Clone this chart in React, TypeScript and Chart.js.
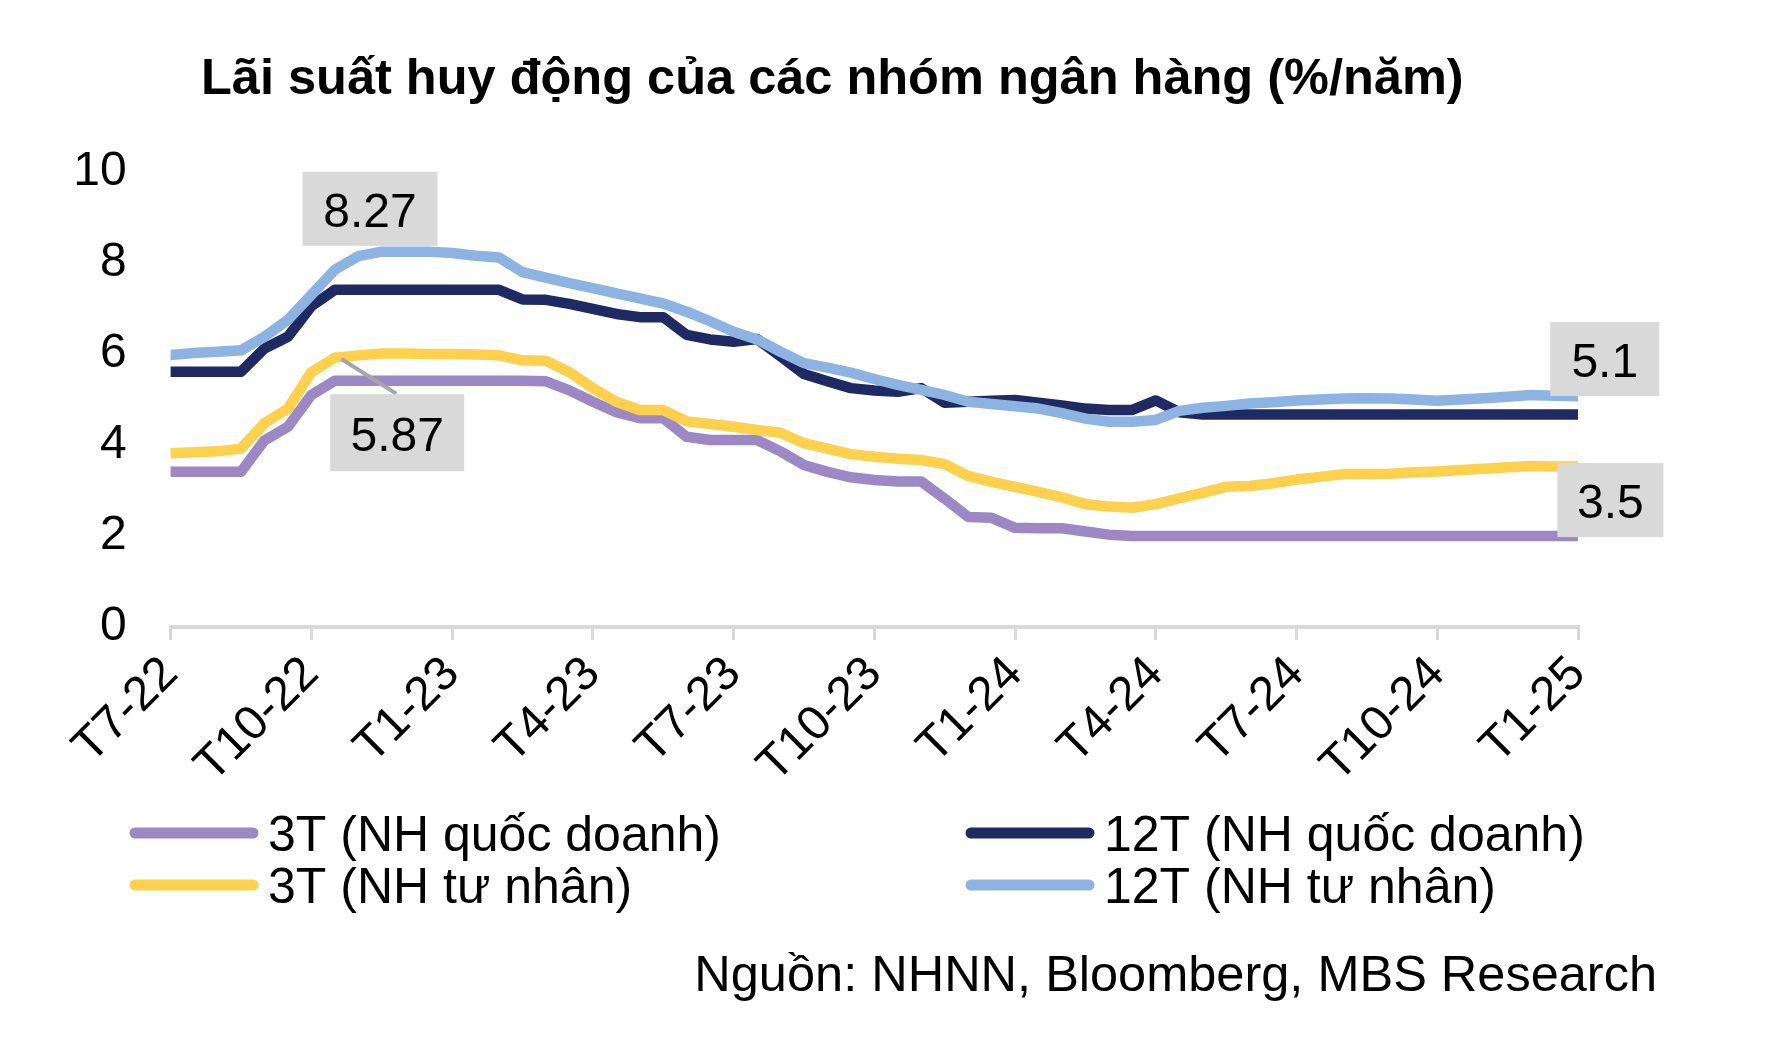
import React, { useEffect, useRef } from 'react';
import { Chart, registerables } from 'chart.js';

Chart.register(...registerables);

// ---- DATA ----
const titleText = 'Lãi suất huy động của các nhóm ngân hàng (%/năm)';
const sourceText = 'Nguồn: NHNN, Bloomberg, MBS Research';

// Quarterly axis labels (T7-22 .. T1-25)
const tickLabels = ['T7-22', 'T10-22', 'T1-23', 'T4-23', 'T7-23', 'T10-23', 'T1-24', 'T4-24', 'T7-24', 'T10-24', 'T1-25'];

// Semi-monthly observations, T7-22 .. T1-25 (61 points)
const state3M = [
  3.41, 3.41, 3.41, 3.41, 4.10, 4.40, 5.10, 5.41, 5.41, 5.41,
  5.41, 5.41, 5.41, 5.41, 5.41, 5.41, 5.40, 5.20, 4.95, 4.72,
  4.59, 4.59, 4.18, 4.11, 4.11, 4.11, 3.86, 3.56, 3.41, 3.29,
  3.23, 3.20, 3.20, 2.82, 2.42, 2.40, 2.18, 2.17, 2.17, 2.10,
  2.03, 2.00, 2.00, 2.00, 2.00, 2.00, 2.00, 2.00, 2.00, 2.00,
  2.00, 2.00, 2.00, 2.00, 2.00, 2.00, 2.00, 2.00, 2.00, 2.00,
  2.00,
];
const state12M = [
  5.61, 5.61, 5.61, 5.61, 6.12, 6.38, 7.05, 7.41, 7.41, 7.41,
  7.41, 7.41, 7.41, 7.41, 7.41, 7.20, 7.19, 7.10, 6.99, 6.88,
  6.81, 6.81, 6.42, 6.32, 6.27, 6.33, 5.95, 5.56, 5.40, 5.25,
  5.20, 5.17, 5.25, 4.93, 4.95, 4.97, 4.99, 4.93, 4.87, 4.80,
  4.77, 4.77, 4.98, 4.72, 4.67, 4.67, 4.67, 4.67, 4.67, 4.67,
  4.67, 4.67, 4.67, 4.67, 4.67, 4.67, 4.67, 4.67, 4.67, 4.67,
  4.67,
];
const private3M = [
  3.82, 3.84, 3.86, 3.92, 4.48, 4.80, 5.60, 5.92, 5.97, 6.01,
  6.01, 6.00, 6.00, 5.99, 5.97, 5.86, 5.85, 5.60, 5.25, 4.95,
  4.77, 4.77, 4.52, 4.46, 4.40, 4.33, 4.27, 4.04, 3.92, 3.80,
  3.74, 3.70, 3.67, 3.58, 3.32, 3.19, 3.08, 2.97, 2.85, 2.70,
  2.65, 2.62, 2.70, 2.83, 2.95, 3.08, 3.10, 3.16, 3.24, 3.30,
  3.36, 3.36, 3.37, 3.40, 3.42, 3.45, 3.48, 3.51, 3.54, 3.53,
  3.53,
];
const private12M = [
  5.98, 6.02, 6.05, 6.08, 6.38, 6.75, 7.30, 7.85, 8.15, 8.25,
  8.25, 8.25, 8.22, 8.16, 8.12, 7.80, 7.68, 7.56, 7.45, 7.33,
  7.22, 7.11, 6.93, 6.72, 6.49, 6.32, 6.05, 5.80, 5.70, 5.59,
  5.45, 5.32, 5.21, 5.10, 4.95, 4.90, 4.85, 4.80, 4.70, 4.58,
  4.51, 4.51, 4.55, 4.75, 4.82, 4.86, 4.91, 4.94, 4.98, 5.00,
  5.02, 5.03, 5.02, 5.00, 4.97, 5.00, 5.03, 5.06, 5.10, 5.08,
  5.07,
];

const seriesNames = ['3T (NH quốc doanh)', '12T (NH quốc doanh)', '3T (NH tư nhân)', '12T (NH tư nhân)'];

// Callout boxes: text and centre in data units (months from T7-22, %)
const callouts = [
  { text: '8.27', x: 4.25, y: 9.19, w: 135, h: 74 },
  { text: '5.87', x: 4.83, y: 4.27, w: 134, h: 77, leader: [3.64, 5.89, 4.81, 5.13] },
  { text: '5.1', x: 30.57, y: 5.89, w: 109, h: 74 },
  { text: '3.5', x: 30.69, y: 2.79, w: 106, h: 74 },
];

// ---- STYLE ----
const COLORS = ['#9b88c4', '#1f2a63', '#fdd14d', '#8db3e2'];
const FONT = '"Liberation Sans", Arial, sans-serif';
const W = 1772;
const H = 1044;

const toXY = (arr: number[]) => arr.map((v, i) => ({ x: i / 2, y: v }));

const decorPlugin = {
  id: 'decor',
  afterDatasetsDraw(chart: any) {
    const { ctx } = chart;
    const xs = chart.scales.x;
    const ys = chart.scales.y;
    ctx.save();
    for (const c of callouts) {
      if (c.leader) {
        ctx.strokeStyle = '#a6a6a6';
        ctx.lineWidth = 4;
        ctx.beginPath();
        ctx.moveTo(xs.getPixelForValue(c.leader[0]), ys.getPixelForValue(c.leader[1]));
        ctx.lineTo(xs.getPixelForValue(c.leader[2]), ys.getPixelForValue(c.leader[3]));
        ctx.stroke();
      }
      const cx = xs.getPixelForValue(c.x);
      const cy = ys.getPixelForValue(c.y);
      ctx.fillStyle = '#d9d9d9';
      ctx.fillRect(cx - c.w / 2, cy - c.h / 2, c.w, c.h);
      ctx.fillStyle = '#000';
      ctx.font = `48px ${FONT}`;
      ctx.textAlign = 'center';
      ctx.textBaseline = 'alphabetic';
      ctx.fillText(c.text, cx, cy + 18);
    }
    ctx.restore();
  },
  afterDraw(chart: any) {
    const { ctx } = chart;
    ctx.save();
    // title
    ctx.fillStyle = '#000';
    ctx.font = `bold 50.5px ${FONT}`;
    ctx.textAlign = 'left';
    ctx.textBaseline = 'alphabetic';
    ctx.fillText(titleText, 201, 94);

    // legend (2 x 2)
    const cols = [130, 966];
    const rows = [833, 885];
    const order = [0, 1, 2, 3];
    ctx.font = `50px ${FONT}`;
    order.forEach((si, k) => {
      const col = cols[k % 2];
      const row = rows[Math.floor(k / 2)];
      ctx.strokeStyle = COLORS[si];
      ctx.lineWidth = 11;
      ctx.lineCap = 'round';
      ctx.beginPath();
      ctx.moveTo(col + 5, row);
      ctx.lineTo(col + 123, row);
      ctx.stroke();
      ctx.fillStyle = '#000';
      ctx.fillText(seriesNames[si], col + 138, row + 18);
    });

    // source
    ctx.textAlign = 'right';
    ctx.font = `50.5px ${FONT}`;
    ctx.fillText(sourceText, 1657, 991);
    ctx.restore();
  },
};

export default function App() {
  const ref = useRef<HTMLCanvasElement | null>(null);

  useEffect(() => {
    const canvas = ref.current;
    if (!canvas) return;
    const datasetsSrc = [state3M, state12M, private3M, private12M];
    const drawOrder = [3, 2, 1, 0];
    const chart = new Chart(canvas, {
      type: 'line',
      data: {
        datasets: datasetsSrc.map((arr, i) => ({
          label: seriesNames[i],
          data: toXY(arr),
          borderColor: COLORS[i],
          backgroundColor: COLORS[i],
          borderWidth: 10.5,
          pointRadius: 0,
          tension: 0,
          fill: false,
          borderCapStyle: 'round' as const,
          borderJoinStyle: 'round' as const,
          order: drawOrder[i],
        })),
      },
      options: {
        responsive: false,
        animation: false,
        devicePixelRatio: 1,
        layout: { padding: { top: 172, right: 194, left: 0, bottom: 0 } },
        plugins: {
          legend: { display: false },
          title: { display: false },
          tooltip: { enabled: false },
        },
        scales: {
          x: {
            type: 'linear',
            min: 0,
            max: 30,
            afterFit: (s: any) => {
              s.height = H - 627;
            },
            ticks: {
              stepSize: 3,
              autoSkip: false,
              maxRotation: 45,
              minRotation: 45,
              padding: 6,
              color: '#000',
              font: { family: FONT, size: 48 },
              callback: (v: any) => tickLabels[Math.round(Number(v) / 3)] ?? '',
            },
            grid: {
              drawOnChartArea: false,
              drawTicks: true,
              tickLength: 13,
              color: '#d9d9d9',
              lineWidth: 3,
            },
            border: { display: true, color: '#d9d9d9', width: 4 },
          },
          y: {
            min: 0,
            max: 10,
            afterFit: (s: any) => {
              s.width = 170.6;
            },
            ticks: {
              stepSize: 2,
              padding: 44,
              color: '#000',
              font: { family: FONT, size: 48 },
            },
            grid: { display: false, drawTicks: false },
            border: { display: false },
          },
        },
      },
      plugins: [decorPlugin],
    });
    return () => chart.destroy();
  }, []);

  return (
    <div style={{ position: 'fixed', left: 0, top: 0, width: W, height: H, background: '#fff' }}>
      <canvas ref={ref} width={W} height={H} style={{ width: W, height: H, display: 'block' }} />
    </div>
  );
}
